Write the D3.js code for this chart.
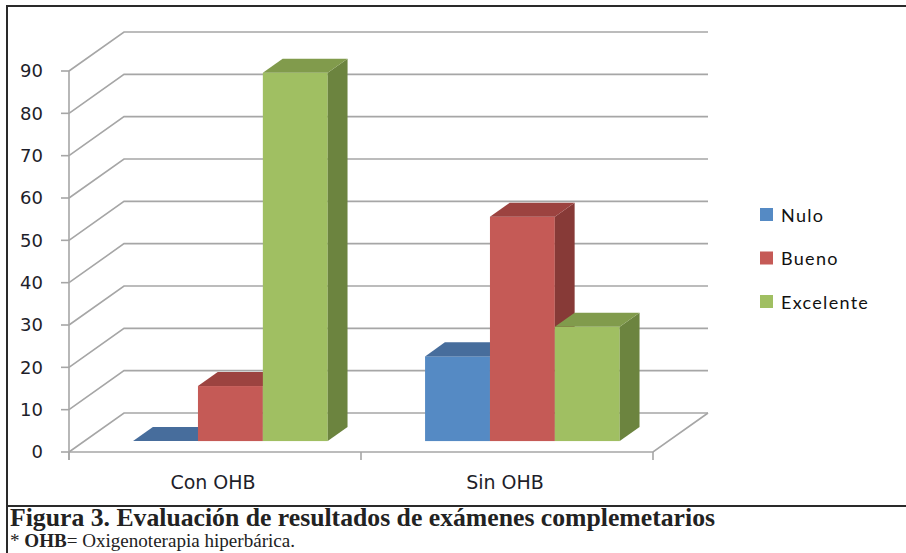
<!DOCTYPE html>
<html>
<head>
<meta charset="utf-8">
<script src="https://cdn.jsdelivr.net/npm/d3@7"></script>
<style>
  body { margin: 0; background: #fff; }
  svg { display: block; }
  .tick-label { font-family: "DejaVu Sans", Verdana, sans-serif; font-size: 18px; fill: #1e1e2a; }
  .cat-label { font-size: 19px; }
  .legend-label { font-family: Lato, "Open Sans", sans-serif; font-size: 18px; fill: #111; letter-spacing: 1.3px; }
</style>
</head>
<body>
<div id="chart"></div>
<script>
// data
const categories = ["Con OHB", "Sin OHB"];
const series = ["Nulo", "Bueno", "Excelente"];
const nulo = [0, 20];
const bueno = [13, 53];
const excelente = [87, 27];
const yTicks = [0, 10, 20, 30, 40, 50, 60, 70, 80, 90];
const seriesValues = [nulo, bueno, excelente];

const colors = {
  front: ["#558ac4", "#c55a56", "#a0bf62"],
  top:   ["#476d9c", "#9c4340", "#819b4c"],
  side:  ["#3d5d87", "#873a37", "#6c843f"]
};

const width = 906, height = 553;
const depth = {dx: 55, dy: -39};      // full depth of the plot box
const barT0 = 0.28, barT = 0.36;      // bar position / thickness inside the depth

const svg = d3.select("#chart").append("svg")
    .attr("width", width)
    .attr("height", height);

const y = d3.scaleLinear().domain([0, 90]).range([452, 71]);
const x0 = d3.scaleBand().domain(categories).range([69, 653]);
const x1 = d3.scaleBand().domain(series).range([0, x0.bandwidth()])
    .paddingInner(0).paddingOuter(0.75);

const x0Left = x0.range()[0], x0Right = x0.range()[1];

// frame
svg.append("line").attr("x1", 7).attr("x2", width).attr("y1", 6).attr("y2", 6)
    .attr("stroke", "#2a2a2a").attr("stroke-width", 2);
svg.append("line").attr("x1", 7).attr("x2", 7).attr("y1", 5).attr("y2", height)
    .attr("stroke", "#2a2a2a").attr("stroke-width", 2);
svg.append("line").attr("x1", 7).attr("x2", width).attr("y1", 506).attr("y2", 506)
    .attr("stroke", "#2a2a2a").attr("stroke-width", 2);

const grid = svg.append("g");
const gridColor = "#a6a6a6";

// gridlines: diagonal on the left wall, then flat on the back wall
grid.selectAll(".gridline")
    .data(yTicks)
  .join("polyline")
    .attr("class", "gridline")
    .attr("fill", "none")
    .attr("stroke", gridColor)
    .attr("stroke-width", 1.6)
    .attr("points", d => [
      [x0Left, y(d)],
      [x0Left + depth.dx, y(d) + depth.dy],
      [x0Right + depth.dx, y(d) + depth.dy]
    ].join(" "));

// floor: front edge and right diagonal
grid.append("polyline")
    .attr("fill", "none")
    .attr("stroke", gridColor)
    .attr("stroke-width", 1.6)
    .attr("points", [
      [x0Left, y(0)],
      [x0Right, y(0)],
      [x0Right + depth.dx, y(0) + depth.dy]
    ].join(" "));

// y axis
grid.append("line")
    .attr("x1", x0Left).attr("x2", x0Left)
    .attr("y1", y(0) + 8).attr("y2", y(90))
    .attr("stroke", gridColor).attr("stroke-width", 1.6);

grid.selectAll(".ytick")
    .data(yTicks)
  .join("line")
    .attr("class", "ytick")
    .attr("x1", x0Left - 8).attr("x2", x0Left)
    .attr("y1", d => y(d)).attr("y2", d => y(d))
    .attr("stroke", gridColor).attr("stroke-width", 1.6);

svg.selectAll(".ylabel")
    .data(yTicks)
  .join("text")
    .attr("class", "tick-label ylabel")
    .attr("x", 43)
    .attr("y", d => y(d))
    .attr("dy", "0.36em")
    .attr("text-anchor", "end")
    .text(d => d);

// x axis ticks
const xTickPos = [x0Left, ...categories.map(c => x0(c) + x0.bandwidth())];
grid.selectAll(".xtick")
    .data(xTickPos)
  .join("line")
    .attr("class", "xtick")
    .attr("x1", d => d).attr("x2", d => d)
    .attr("y1", y(0)).attr("y2", y(0) + 8)
    .attr("stroke", gridColor).attr("stroke-width", 1.6);

svg.selectAll(".cat-label")
    .data(categories)
  .join("text")
    .attr("class", "tick-label cat-label")
    .attr("x", d => x0(d) + x0.bandwidth() / 2 - 2)
    .attr("y", 489)
    .attr("text-anchor", "middle")
    .text(d => d);

// bars
const bars = [];
categories.forEach((c, ci) => {
  series.forEach((s, si) => {
    bars.push({category: c, series: s, si: si, value: seriesValues[si][ci]});
  });
});

const ox = depth.dx * barT0, oy = depth.dy * barT0;
const bx = depth.dx * barT, by = depth.dy * barT;

const barG = svg.selectAll(".bar")
    .data(bars)
  .join("g")
    .attr("class", "bar");

barG.each(function(d) {
  const g = d3.select(this);
  const xl = x0(d.category) + x1(d.series) + ox;
  const xr = xl + x1.bandwidth();
  const yb = y(0) + oy;
  const yt = y(d.value) + oy;

  if (d.value > 0) {
    g.append("rect")
        .attr("x", xl).attr("y", yt)
        .attr("width", xr - xl).attr("height", yb - yt)
        .attr("fill", colors.front[d.si]);
    g.append("polygon")
        .attr("points", [[xr, yt], [xr + bx, yt + by], [xr + bx, yb + by], [xr, yb]].join(" "))
        .attr("fill", colors.side[d.si]);
  }
  g.append("polygon")
      .attr("points", [[xl, yt], [xl + bx, yt + by], [xr + bx, yt + by], [xr, yt]].join(" "))
      .attr("fill", colors.top[d.si]);
});

// legend
const legend = svg.append("g").attr("transform", "translate(760,208)");
const item = legend.selectAll(".legend-item")
    .data(series)
  .join("g")
    .attr("class", "legend-item")
    .attr("transform", (d, i) => `translate(0,${i * 43.5})`);
item.append("rect")
    .attr("width", 13).attr("height", 13)
    .attr("fill", (d, i) => colors.front[i]);
item.append("text")
    .attr("class", "legend-label")
    .attr("x", 21)
    .attr("y", 13.5)
    .text(d => d);

// caption
svg.append("text")
    .attr("x", 10)
    .attr("y", 526)
    .style("font-family", "'Liberation Serif', serif")
    .style("font-weight", "bold")
    .style("font-size", "25px")
    .attr("fill", "#222")
    .attr("textLength", 705)
    .attr("lengthAdjust", "spacingAndGlyphs")
    .text("Figura 3. Evaluación de resultados de exámenes complemetarios");

const note = svg.append("text")
    .attr("x", 10)
    .attr("y", 547)
    .style("font-family", "'Liberation Serif', serif")
    .style("font-size", "18px")
    .attr("fill", "#222")
    .attr("textLength", 285)
    .attr("lengthAdjust", "spacingAndGlyphs");
note.append("tspan").text("* ");
note.append("tspan").style("font-weight", "bold").text("OHB");
note.append("tspan").text("= Oxigenoterapia hiperbárica.");
</script>
</body>
</html>
